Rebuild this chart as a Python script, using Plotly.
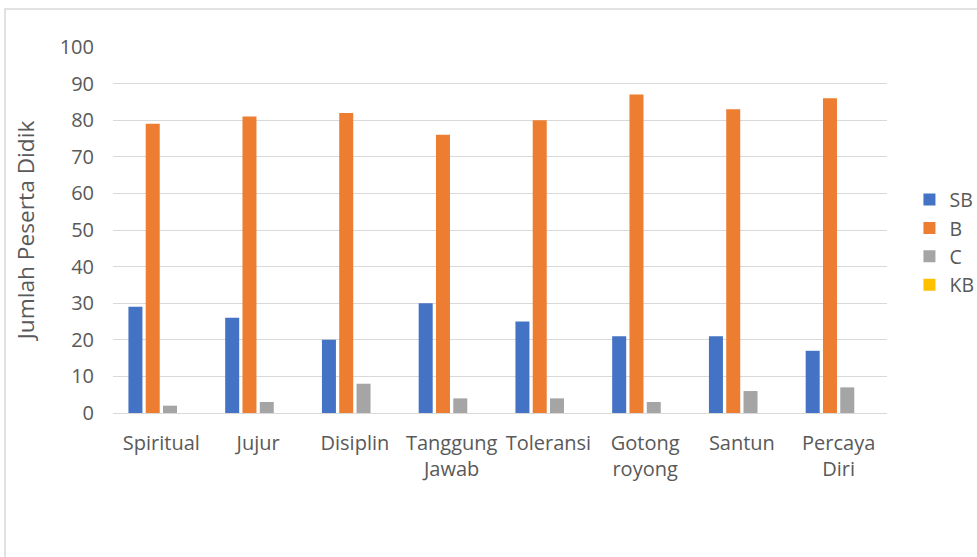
import plotly.graph_objects as go

categories = ["Spiritual", "Jujur", "Disiplin", "Tanggung<br>Jawab", "Toleransi",
              "Gotong<br>royong", "Santun", "Percaya<br>Diri"]
sb = [29, 26, 20, 30, 25, 21, 21, 17]
b = [79, 81, 82, 76, 80, 87, 83, 86]
c = [2, 3, 8, 4, 4, 3, 6, 7]
kb = [0, 0, 0, 0, 0, 0, 0, 0]

series = [("SB", sb, "#4472C4"), ("B", b, "#ED7D31"), ("C", c, "#A5A5A5"), ("KB", kb, "#FFC000")]

fig = go.Figure()
for name, vals, col in series:
    fig.add_trace(go.Bar(x=categories, y=vals, name=name, marker_color=col,
                         marker_line_width=0))

font = "Open Sans, sans-serif"
fig.update_layout(
    width=977, height=557,
    margin=dict(l=113, r=90, t=47, b=144, autoexpand=False),
    paper_bgcolor="white", plot_bgcolor="white",
    barmode="group", bargap=0.285, bargroupgap=0.19,
    font=dict(family=font, size=20, color="#595959"),
    legend=dict(x=1.029, y=0.466, xanchor="left", yanchor="middle",
                font=dict(size=19.5, color="#595959"), tracegroupgap=0,
                itemwidth=30),
    showlegend=True,
)
fig.update_yaxes(range=[0, 100], dtick=10, showgrid=True, gridcolor="#D9D9D9", gridwidth=1.3,
                 zeroline=False, showline=False, ticks="", ticklabelstandoff=18,
                 title=dict(text="Jumlah Peserta Didik", font=dict(size=22.7, color="#595959"), standoff=18))
fig.update_xaxes(showgrid=False, showline=True, linecolor="#D9D9D9", linewidth=1.3,
                 ticks="", ticklabelstandoff=12)
fig.add_shape(type="rect", xref="paper", yref="paper", x0=-0.1395, y0=-1, x1=2, y1=1.1038,
              line=dict(color="#D9D9D9", width=1.5), fillcolor="rgba(0,0,0,0)", layer="below")
fig.write_html("out.html")
